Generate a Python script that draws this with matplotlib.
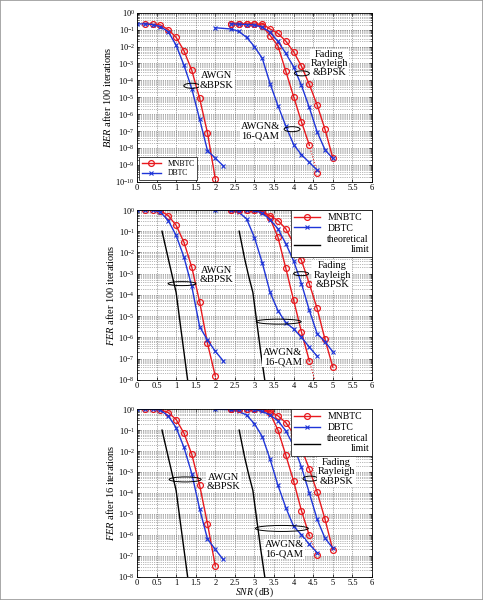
#!/usr/bin/env python3

import numpy as np
import matplotlib
matplotlib.use('Agg')
import matplotlib.pyplot as plt
from matplotlib.patches import Ellipse, Rectangle
from matplotlib.transforms import ScaledTranslation
from matplotlib.ticker import LogLocator

plt.rcParams['font.family'] = ['Liberation Serif', 'DejaVu Serif']
plt.rcParams['mathtext.fontset'] = 'custom'
plt.rcParams['mathtext.rm'] = 'Liberation Serif'
plt.rcParams['mathtext.it'] = 'Liberation Serif:italic'

# SNR grids (dB)
snr_bpsk_mn = [0.2, 0.4, 0.6, 0.8, 1.0, 1.2, 1.4, 1.6, 1.8, 2.0]
snr_bpsk_db = [0.0, 0.2, 0.4, 0.6, 0.8, 1.0, 1.2, 1.4, 1.6, 1.8, 2.0, 2.2]
snr_qam_mn = [2.4, 2.6, 2.8, 3.0, 3.2, 3.4, 3.6, 3.8, 4.0, 4.2, 4.4, 4.6]
snr_qam_db = [2.0, 2.4, 2.6, 2.8, 3.0, 3.2, 3.4, 3.6, 3.8, 4.0, 4.2, 4.4, 4.6]
snr_ray = [2.4, 2.6, 2.8, 3.0, 3.2, 3.4, 3.6, 3.8, 4.0, 4.2, 4.4, 4.6, 4.8, 5.0]
snr_lim_bpsk = [0.64, 0.8, 0.9, 1.0, 1.1, 1.2, 1.3]
snr_lim_qam = [2.61, 2.75, 2.85, 2.96, 3.06, 3.16, 3.27]
fer_lim = [1.0e-1, 5.0e-3, 7.9e-4, 1.3e-4, 5.0e-6, 2.0e-7, 7.9e-9]

# BER after 100 iterations
ber_bpsk_mn = [2.3e-1, 2.1e-1, 1.9e-1, 1.0e-1, 3.5e-2, 5.6e-3, 3.9e-4, 8.5e-6, 7.9e-8, 1.5e-10]
ber_bpsk_db = [2.2e-1, 2.2e-1, 2.0e-1, 1.5e-1, 7.6e-2, 1.2e-2, 7.9e-4, 3.2e-5, 5.0e-7, 7.1e-9, 2.5e-9, 8.9e-10]
ber_qam_mn = [2.3e-1, 2.2e-1, 2.1e-1, 2.1e-1, 1.6e-1, 4.5e-2, 1.1e-2, 3.5e-4, 1.1e-5, 3.5e-7, 1.5e-8, 3.5e-10]
ber_qam_db = [1.3e-1, 1.1e-1, 7.9e-2, 3.5e-2, 1.0e-2, 2.0e-3, 6.3e-5, 3.2e-6, 2.0e-7, 1.6e-8, 4.0e-9, 1.4e-9, 5.0e-10]
ber_ray_mn = [2.3e-1, 2.3e-1, 2.2e-1, 2.1e-1, 2.2e-1, 1.1e-1, 6.0e-2, 2.1e-2, 4.9e-3, 6.9e-4, 5.8e-5, 3.5e-6, 1.3e-7, 2.6e-9]
ber_ray_db = [2.2e-1, 2.1e-1, 2.0e-1, 1.9e-1, 1.4e-1, 7.1e-2, 2.0e-2, 4.0e-3, 6.3e-4, 5.0e-5, 2.5e-6, 9.1e-8, 7.9e-9, 2.4e-9]

# FER after 100 iterations
fer100_bpsk_mn = [1.0, 1.0, 9.3e-1, 5.4e-1, 1.9e-1, 3.0e-2, 2.0e-3, 4.7e-5, 5.2e-7, 1.5e-8]
fer100_bpsk_db = [1.0, 1.0, 1.0, 7.9e-1, 3.2e-1, 6.3e-2, 6.0e-3, 2.5e-4, 3.2e-6, 7.4e-7, 2.2e-7, 7.9e-8]
fer100_qam_mn = [1.0, 1.0, 1.0, 1.0, 8.9e-1, 4.0e-1, 5.2e-2, 1.8e-3, 5.6e-5, 1.8e-6, 7.9e-8, 4.0e-9]
fer100_qam_db = [1.0, 1.0, 7.9e-1, 3.8e-1, 5.0e-2, 3.2e-3, 1.3e-4, 1.8e-5, 5.0e-6, 2.5e-6, 1.0e-6, 3.5e-7, 1.3e-7]
fer100_ray_mn = [1.0, 1.0, 1.0, 1.0, 8.7e-1, 5.4e-1, 3.2e-1, 1.3e-1, 2.6e-2, 4.2e-3, 3.4e-4, 2.3e-5, 8.1e-7, 4.0e-8]
fer100_ray_db = [1.0, 1.0, 1.0, 9.5e-1, 7.1e-1, 3.5e-1, 1.3e-1, 2.6e-2, 4.0e-3, 3.4e-4, 1.9e-5, 1.5e-6, 6.3e-7, 2.1e-7]

# FER after 16 iterations
fer16_bpsk_mn = [1.0, 1.0, 9.3e-1, 6.9e-1, 3.2e-1, 7.1e-2, 6.9e-3, 2.3e-4, 3.4e-6, 3.2e-8]
fer16_bpsk_db = [1.0, 1.0, 1.0, 8.9e-1, 4.8e-1, 1.3e-1, 1.5e-2, 8.3e-4, 1.7e-5, 6.3e-7, 2.0e-7, 6.6e-8]
fer16_qam_mn = [1.0, 1.0, 1.0, 1.0, 1.0, 6.3e-1, 1.0e-1, 6.3e-3, 3.6e-4, 1.4e-5, 9.3e-7, 1.1e-7]
fer16_qam_db = [1.0, 9.5e-1, 7.9e-1, 5.2e-1, 2.0e-1, 4.9e-2, 4.0e-3, 2.3e-4, 2.0e-5, 2.5e-6, 1.0e-6, 3.5e-7, 1.4e-7]
fer16_ray_mn = [1.0, 1.0, 1.0, 1.0, 1.0, 7.8e-1, 4.8e-1, 2.3e-1, 6.6e-2, 1.3e-2, 1.4e-3, 1.1e-4, 5.6e-6, 1.9e-7]
fer16_ray_db = [1.0, 1.0, 1.0, 9.5e-1, 7.9e-1, 5.2e-1, 2.8e-1, 9.3e-2, 1.8e-2, 1.7e-3, 1.0e-4, 5.5e-6, 6.9e-7, 2.3e-7]

x_ticks = [0, 0.5, 1, 1.5, 2, 2.5, 3, 3.5, 4, 4.5, 5, 5.5, 6]
x_tick_labels = ['0', '0.5', '1', '1.5', '2', '2.5', '3', '3.5', '4', '4.5', '5', '5.5', '6']

RED = '#e8191e'
BLUE = '#1f35d8'

red_kw = dict(color=RED, lw=1.0, marker='o', ms=4.2, mfc='none', mew=0.9)
blue_kw = dict(color=BLUE, lw=1.0, marker='x', ms=2.2, mew=0.8)


def ring(fig, ax, x, y, w_px, h_px):
    # ellipse of fixed pixel size centred at a data point
    trans = fig.dpi_scale_trans + ScaledTranslation(x, y, ax.transData)
    ax.add_patch(Ellipse((0, 0), w_px / fig.dpi, h_px / fig.dpi, transform=trans,
                         fill=False, ec='black', lw=0.7, zorder=6))


def label(ax, x, y, s):
    ax.text(x, y, s, ha='center', va='center', fontsize=7.5, linespacing=1.05, zorder=7,
            bbox=dict(facecolor='white', edgecolor='none', pad=0.6))


def setup_axes(ax, ymin, ylabel):
    ax.set_yscale('log')
    ax.set_xlim(0, 6)
    ax.set_ylim(ymin, 1)
    ax.set_xticks(x_ticks)
    ax.set_xticklabels(x_tick_labels)
    ax.yaxis.set_major_locator(LogLocator(base=10, numticks=20))
    ax.yaxis.set_minor_locator(LogLocator(base=10, subs=np.arange(2, 10), numticks=20))
    ax.tick_params(which='both', direction='in', top=True, right=True, labelsize=6, pad=1.5)
    ax.tick_params(which='major', length=2.5, width=0.5)
    ax.tick_params(which='minor', length=1.2, width=0.4)
    ax.grid(True, which='major', linestyle=':', color='0.3', lw=0.5)
    ax.grid(True, which='minor', axis='y', linestyle=':', color='0.45', lw=0.5)
    ax.set_axisbelow(True)
    for sp in ax.spines.values():
        sp.set_linewidth(0.6)
    ax.set_ylabel(ylabel, fontsize=7.5, labelpad=2)


def plot_panel(ax, bpsk_mn, bpsk_db, qam_mn, qam_db, ray_mn, ray_db, with_limit):
    ax.plot(snr_bpsk_mn, bpsk_mn, label='MNBTC', **red_kw)
    ax.plot(snr_bpsk_db, bpsk_db, label='DBTC', **blue_kw)
    ax.plot(snr_qam_mn[:-1], qam_mn[:-1], **red_kw)
    ax.plot(snr_qam_mn[-2:], qam_mn[-2:], color=RED, lw=0.8, ls=':')
    ax.plot(snr_qam_mn[-1:], qam_mn[-1:], ls='none', **{k: v for k, v in red_kw.items() if k != 'lw'})
    ax.plot(snr_qam_db, qam_db, **blue_kw)
    ax.plot(snr_ray, ray_mn, **red_kw)
    ax.plot(snr_ray, ray_db, **blue_kw)
    if with_limit:
        ax.plot(snr_lim_bpsk, fer_lim, color='black', lw=1.0, label='theoretical\nlimit')
        ax.plot(snr_lim_qam, fer_lim, color='black', lw=1.0)


def add_legend(ax, loc, size, pad_ax):
    leg = ax.legend(loc=loc, fontsize=size, frameon=True, fancybox=False, edgecolor='black',
                    framealpha=1, borderpad=0.3, handlelength=2.6, labelspacing=0.2,
                    borderaxespad=pad_ax)
    leg.get_frame().set_linewidth(0.5)
    for t in leg.get_texts():
        t.set_multialignment('right')
    return leg


def main():
    fig = plt.figure(figsize=(4.83, 6.0), dpi=100)
    fig.add_artist(Rectangle((0, 0), 1, 1, transform=fig.transFigure, fill=False,
                             ec='0.6', lw=1.2))

    ax1 = fig.add_axes([0.2836, 0.697, 0.4865, 0.2817])
    ax2 = fig.add_axes([0.2836, 0.367, 0.4865, 0.283])
    ax3 = fig.add_axes([0.2836, 0.039, 0.4865, 0.279])

    # BER, 100 iterations
    setup_axes(ax1, 1e-10, r'$\it{BER}$ after 100 iterations')
    plot_panel(ax1, ber_bpsk_mn, ber_bpsk_db, ber_qam_mn, ber_qam_db, ber_ray_mn, ber_ray_db, False)
    ring(fig, ax1, 1.40, 4.8e-5, 16, 5)
    label(ax1, 2.04, 1.0e-4, 'AWGN\n&BPSK')
    ring(fig, ax1, 4.21, 2.6e-4, 15, 5)
    label(ax1, 4.92, 1.0e-3, 'Fading\nRayleigh\n&BPSK')
    ring(fig, ax1, 3.96, 1.3e-7, 16, 5)
    label(ax1, 3.15, 1.0e-7, 'AWGN&\n16-QAM')
    add_legend(ax1, 'lower left', 5.5, 0.3)

    # FER, 100 iterations
    setup_axes(ax2, 1e-8, r'$\it{FER}$ after 100 iterations')
    plot_panel(ax2, fer100_bpsk_mn, fer100_bpsk_db, fer100_qam_mn, fer100_qam_db,
               fer100_ray_mn, fer100_ray_db, True)
    ring(fig, ax2, 1.15, 3.4e-4, 28, 4)
    label(ax2, 2.04, 8.5e-4, 'AWGN\n&BPSK')
    ring(fig, ax2, 4.19, 1.0e-3, 15, 4)
    label(ax2, 4.98, 8.5e-4, 'Fading\nRayleigh\n&BPSK')
    ring(fig, ax2, 3.62, 5.5e-6, 45, 5)
    label(ax2, 3.72, 1.2e-7, 'AWGN&\n16-QAM')
    add_legend(ax2, 'upper right', 7, 0.0)

    # FER, 16 iterations
    setup_axes(ax3, 1e-8, r'$\it{FER}$ after 16 iterations')
    plot_panel(ax3, fer16_bpsk_mn, fer16_bpsk_db, fer16_qam_mn, fer16_qam_db,
               fer16_ray_mn, fer16_ray_db, True)
    ring(fig, ax3, 1.23, 4.4e-4, 32, 5)
    label(ax3, 2.21, 3.4e-4, 'AWGN\n&BPSK')
    ring(fig, ax3, 4.43, 4.8e-4, 15, 5)
    label(ax3, 5.09, 1.0e-3, 'Fading\nRayleigh\n&BPSK')
    ring(fig, ax3, 3.70, 2.0e-6, 53, 6)
    label(ax3, 3.76, 2.1e-7, 'AWGN&\n16-QAM')
    add_legend(ax3, 'upper right', 7, 0.0)
    ax3.set_xlabel(r'$\it{SNR}$ (dB)', fontsize=7, labelpad=-0.5)

    fig.savefig('out.png', dpi=100)


if __name__ == '__main__':
    main()
